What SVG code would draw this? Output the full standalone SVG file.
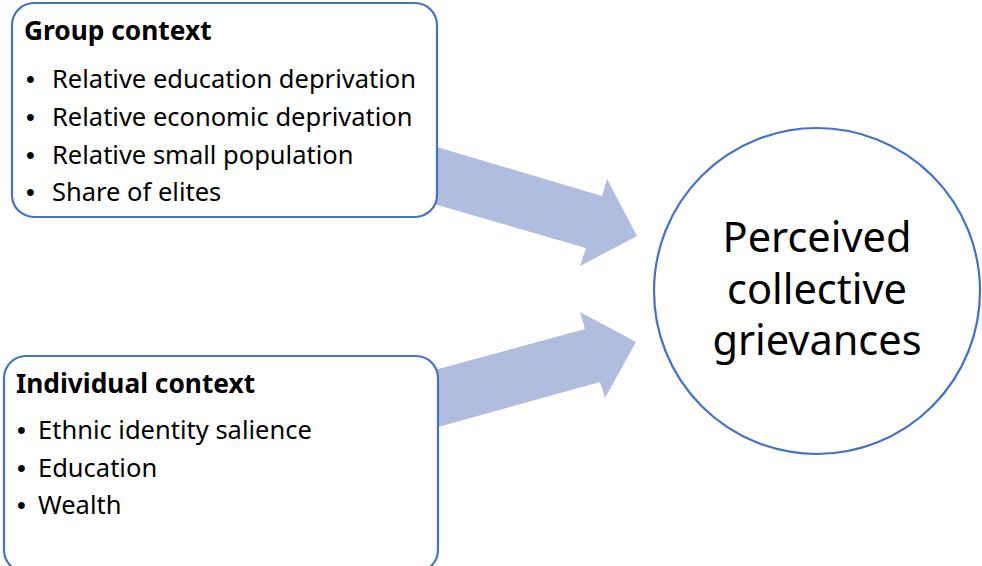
<svg xmlns="http://www.w3.org/2000/svg" width="982" height="566" viewBox="0 0 982 566">
<style>
.box{fill:#fff;stroke:#4472C4;stroke-width:2.2}
.arrow{fill:#B0BDDF;stroke:none}
.t{font-family:"Noto Sans","Liberation Sans",sans-serif;fill:#000}
.h{font-size:26.3px;font-weight:bold}
.b{font-size:25.5px}
.d{font-family:"Liberation Sans",sans-serif;font-size:25px;fill:#000}
.c{font-size:41.5px;text-anchor:middle}
</style>
<rect width="982" height="566" fill="#fff"/>
<g id="connectors">
<polygon class="arrow" points="420,142 602,196 607,179 637,236 580,266 586,248 420,200"/>
<polygon class="arrow" points="420,374 585,329 580,312 636,342 605,398 600,382 420,432"/>
</g>
<g id="group-context">
<rect class="box" x="12" y="3" width="425" height="214" rx="22"/>
<text class="t h" x="24" y="40">Group context</text>
<text class="d" x="26" y="88">•</text><text class="t b" x="52" y="88">Relative education deprivation</text>
<text class="d" x="26" y="126">•</text><text class="t b" x="52" y="126">Relative economic deprivation</text>
<text class="d" x="26" y="164">•</text><text class="t b" x="52" y="164">Relative small population</text>
<text class="d" x="26" y="201">•</text><text class="t b" x="52" y="201">Share of elites</text>
</g>
<g id="individual-context">
<rect class="box" x="4" y="356" width="434" height="216" rx="22"/>
<text class="t h" x="16" y="393">Individual context</text>
<text class="d" x="17" y="439">•</text><text class="t b" x="38" y="439">Ethnic identity salience</text>
<text class="d" x="17" y="477">•</text><text class="t b" x="38" y="477">Education</text>
<text class="d" x="17" y="514">•</text><text class="t b" x="38" y="514">Wealth</text>
</g>
<g id="grievances">
<circle class="box" cx="817" cy="291" r="163"/>
<text class="t c" x="817" y="252">Perceived</text>
<text class="t c" x="817" y="304">collective</text>
<text class="t c" x="817" y="355">grievances</text>
</g>
</svg>
